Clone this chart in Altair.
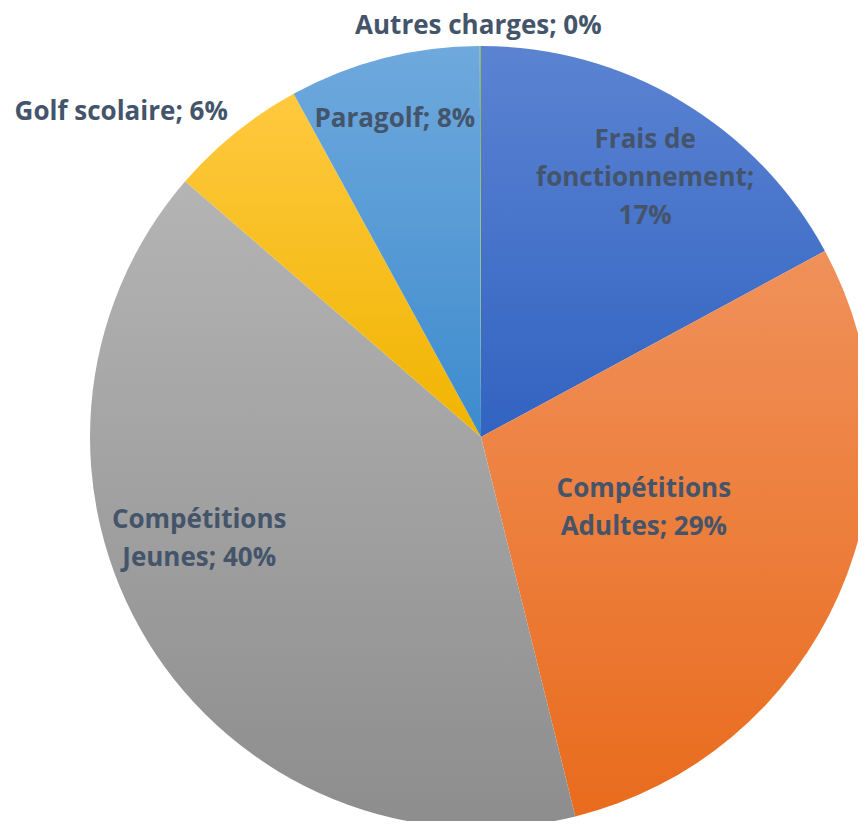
import altair as alt
import pandas as pd

# ---- data ----
categories = ["Frais de fonctionnement", "Compétitions Adultes", "Compétitions Jeunes",
              "Golf scolaire", "Paragolf", "Autres charges"]
values = [17.1, 29.0, 40.2, 5.7, 7.9, 0.05]
labels = ["Frais de\nfonctionnement;\n17%", "Compétitions\nAdultes; 29%", "Compétitions\nJeunes; 40%",
          "Golf scolaire; 6%", "Paragolf; 8%", "Autres charges; 0%"]
order = [0, 1, 2, 3, 4, 5]

df = pd.DataFrame({"cat": categories, "value": values, "label": labels, "order": order})
total = sum(values)

# ---- styles ----
gradients = {
    "Frais de fonctionnement": ("#5B83D2", "#3263C1"),
    "Compétitions Adultes": ("#F0915A", "#E96B1D"),
    "Compétitions Jeunes": ("#B4B4B4", "#8D8D8D"),
    "Golf scolaire": ("#FFC93F", "#F0B400"),
    "Paragolf": ("#6FA9DD", "#3D8BCD"),
    "Autres charges": ("#8DBB6E", "#70AD47"),
}
# radius, dx, dy for each label
label_pos = {
    "Frais de fonctionnement": (307, 7, -33),
    "Compétitions Adultes": (178, 0, -20),
    "Compétitions Jeunes": (292, -33, -70),
    "Golf scolaire": (479, -59, 48),
    "Paragolf": (330, -4, 2),
    "Autres charges": (414, -2, 3),
}
CX, CY, R = 473, 429, 391
TEXT_COLOR = "#44546A"
FONT = "Open Sans"

base = (
    alt.Chart(df)
    .transform_window(cum="sum(value)", frame=[None, 0], sort=[alt.SortField("order")])
    .transform_calculate(start="datum.cum - datum.value", mid="datum.cum - datum.value/2")
)
theta_scale = alt.Scale(domain=[0, total], range=[0, 6.283185307179586])

layers = []
for c in categories:
    top, bot = gradients[c]
    grad = alt.LinearGradient(
        gradient="linear", x1=0, y1=0, x2=0, y2=1,
        stops=[alt.GradientStop(color=top, offset=0), alt.GradientStop(color=bot, offset=1)],
    )
    layers.append(
        base.transform_filter(alt.datum.cat == c)
        .mark_arc(radius=R, fill=grad, strokeWidth=0)
        .encode(
            theta=alt.Theta("start:Q", scale=theta_scale),
            theta2="cum:Q",
            x=alt.value(CX), y=alt.value(CY),
        )
    )

for c in categories:
    r, dx, dy = label_pos[c]
    layers.append(
        base.transform_filter(alt.datum.cat == c)
        .mark_text(radius=r, dx=dx, dy=dy, font=FONT, fontSize=26, fontWeight="bold",
                   color=TEXT_COLOR, lineBreak="\n", lineHeight=38, align="center",
                   baseline="middle")
        .encode(
            theta=alt.Theta("mid:Q", scale=theta_scale),
            text="label:N",
            x=alt.value(CX), y=alt.value(CY),
        )
    )

chart = alt.layer(*layers).properties(
    width=850, height=813, autosize=alt.AutoSizeParams(type="none"), padding=0
).configure_view(strokeWidth=0, fill="white")

chart.save("out.html", embed_options={"renderer": "svg", "actions": False})
